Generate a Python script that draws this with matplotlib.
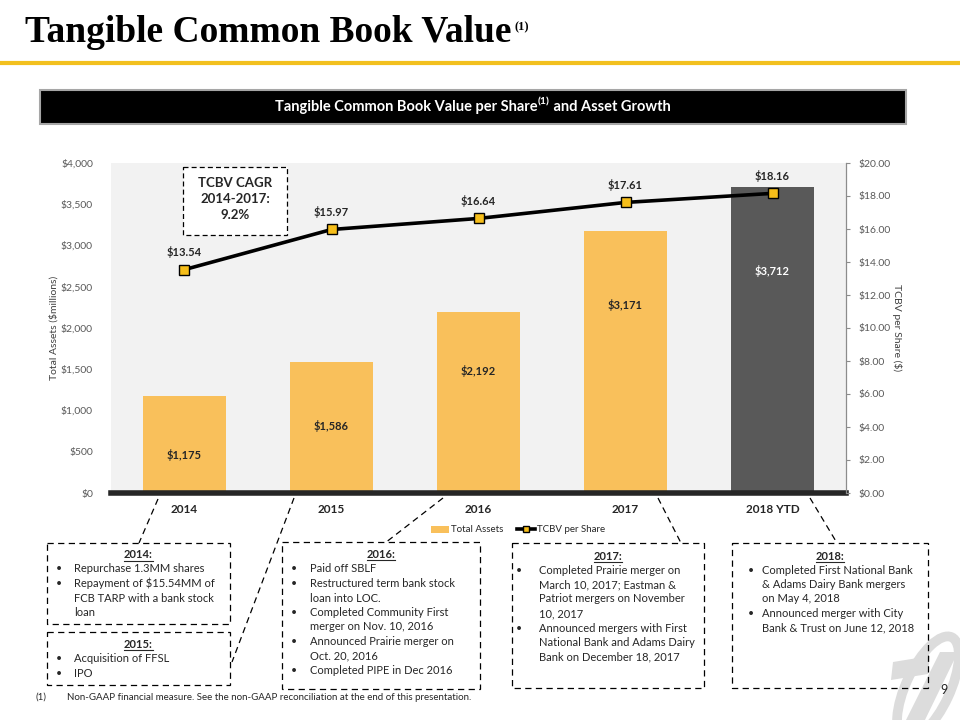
import matplotlib
matplotlib.use('Agg')
import matplotlib.pyplot as plt
from matplotlib.patches import Rectangle, Ellipse, Polygon
import numpy as np

# ---------------- data ----------------
years = ['2014', '2015', '2016', '2017', '2018 YTD']
total_assets = [1175, 1586, 2192, 3171, 3712]          # $ millions
tcbv_per_share = [13.54, 15.97, 16.64, 17.61, 18.16]   # $
asset_ticks = [0, 500, 1000, 1500, 2000, 2500, 3000, 3500, 4000]
asset_tick_labels = ['$0', '$500', '$1,000', '$1,500', '$2,000', '$2,500', '$3,000', '$3,500', '$4,000']
tcbv_ticks = [0, 2, 4, 6, 8, 10, 12, 14, 16, 18, 20]
tcbv_tick_labels = ['$0.00', '$2.00', '$4.00', '$6.00', '$8.00', '$10.00', '$12.00',
                    '$14.00', '$16.00', '$18.00', '$20.00']
cagr_lines = ['TCBV CAGR', '2014-2017:', '9.2%']

box_2014 = ['Repurchase 1.3MM shares',
            ['Repayment of $15.54MM of', 'FCB TARP with a bank stock', 'loan']]
box_2015 = ['Acquisition of FFSL', 'IPO']
box_2016 = ['Paid off SBLF',
            ['Restructured term bank stock', 'loan into LOC.'],
            ['Completed Community First', 'merger on Nov. 10, 2016'],
            ['Announced Prairie merger on', 'Oct. 20, 2016'],
            'Completed PIPE in Dec 2016']
box_2017 = [['Completed Prairie merger on', 'March 10, 2017; Eastman &',
             'Patriot mergers on November', '10, 2017'],
            ['Announced mergers with First', 'National Bank and Adams Dairy',
             'Bank on December 18, 2017']]
box_2018 = [['Completed First National Bank', '& Adams Dairy Bank mergers', 'on May 4, 2018'],
            ['Announced merger with City', 'Bank & Trust on June 12, 2018']]

# ---------------- style ----------------
plt.rcParams['font.family'] = ['Lato', 'DejaVu Sans']
W, H = 960, 720
ORANGE = '#F9C05B'
DARK = '#595959'
MARKER = '#F6BE1A'
TXT = '#262626'
LOGO = '#DCDCDC'

fig = plt.figure(figsize=(W / 100, H / 100), dpi=100)
fig.patch.set_facecolor('white')

# ---------------- chart ----------------
L, R, T, B = 111, 846, 163, 493
ax = fig.add_axes([L / W, 1 - B / H, (R - L) / W, (B - T) / H])
ax.set_facecolor('#F2F2F2')
x = np.arange(len(years))
bar_colors = [ORANGE] * (len(years) - 1) + [DARK]
bars = ax.bar(x, total_assets, width=0.57, color=bar_colors, zorder=2, label='Total Assets')
ax.set_xlim(-0.5, len(years) - 0.5)
ax.set_ylim(0, 4000)
ax.set_yticks(asset_ticks)
ax.set_yticklabels(asset_tick_labels)
ax.set_xticks(x)
ax.set_xticklabels(years, fontweight='bold')
ax.tick_params(axis='y', length=0, pad=13, labelsize=7.5, labelcolor='#595959')
ax.tick_params(axis='x', length=0, pad=8, labelsize=8.5, labelcolor=TXT)
for s in ['top', 'left', 'right']:
    ax.spines[s].set_visible(False)
ax.spines['bottom'].set_color('#262626')
ax.spines['bottom'].set_linewidth(4)
ax.spines['bottom'].set_zorder(5)
ax.set_ylabel('Total Assets ($millions)', fontsize=7.5, color='#404040')
ax.yaxis.set_label_coords((59 - L) / (R - L), 0.5)

drop_pts = [42.5, 46, 42.5, 53, 60.5]
label_colors = [TXT] * (len(years) - 1) + ['white']
for i, v in enumerate(total_assets):
    ax.annotate(f'${v:,}', xy=(i, v), xytext=(0, -drop_pts[i]), textcoords='offset points',
                ha='center', va='center', fontsize=8, fontweight='bold', color=label_colors[i])

ax2 = ax.twinx()
ax2.set_ylim(0, 20)
line, = ax2.plot(x, tcbv_per_share, color='black', lw=2.6, marker='s', ms=7,
                 mfc=MARKER, mec='black', mew=1.0, zorder=4, label='TCBV per Share')
ax2.set_yticks(tcbv_ticks)
ax2.set_yticklabels(tcbv_tick_labels)
ax2.tick_params(axis='y', length=3, width=0.8, color='#8C8C8C', pad=6,
                labelsize=7.5, labelcolor='#595959')
for s in ['top', 'left', 'bottom']:
    ax2.spines[s].set_visible(False)
ax2.spines['right'].set_color('#8C8C8C')
ax2.spines['right'].set_linewidth(0.9)
ax2.set_ylabel('TCBV per Share ($)', fontsize=7.5, color='#404040', rotation=-90, va='center')
ax2.yaxis.set_label_coords((897 - L) / (R - L), 0.5)
for i, v in enumerate(tcbv_per_share):
    ax2.annotate(f'${v:.2f}', xy=(i, v), xytext=(0, 12.5), textcoords='offset points',
                 ha='center', va='center', fontsize=8, fontweight='bold', color=TXT)

fig.legend(handles=[bars, line], labels=['Total Assets', 'TCBV per Share'],
           loc='center', bbox_to_anchor=(518 / W, 1 - 530 / H), ncol=2, frameon=False,
           fontsize=7, handlelength=1.9, handletextpad=0.2, columnspacing=1.4,
           labelcolor='#262626', markerscale=0.6)

# ---------------- overlay (slide decorations) ----------------
ov = fig.add_axes([0, 0, 1, 1], zorder=10)
ov.set_xlim(0, W)
ov.set_ylim(H, 0)
ov.axis('off')
ov.patch.set_alpha(0)

# Logo (light grey emblem), drawn first so boxes/text lie over it
ov.add_patch(Ellipse((928, 688), 112, 44, angle=115, fill=False, ec=LOGO, lw=7))
ov.add_patch(Polygon([(893, 662), (930, 656), (928, 674), (891, 680)], closed=True,
                     fc=LOGO, ec='none'))
ov.add_patch(Polygon([(905, 722), (924, 722), (958, 652), (940, 652)], closed=True,
                     fc=LOGO, ec='none'))

# Title
title = ov.text(25, 42, 'Tangible Common Book Value', family='Liberation Serif',
                weight='bold', size=27, va='baseline', color='black')
ov.plot([0, W], [63, 63], color='#F2C01E', lw=3, solid_capstyle='butt')

# Header bar
ov.add_patch(Rectangle((40, 90), 866, 34, fc='black', ec='#A6A6A6', lw=1.5))

# CAGR box
ov.add_patch(Rectangle((183, 167), 104, 68, fc='white', ec='black', lw=0.9, ls=(0, (4, 2.5))))
for k, s in enumerate(cagr_lines):
    ov.text(235.5, 183 + 16 * k, s, ha='center', va='center', fontsize=9.5,
            fontweight='bold', color=TXT)

# Connector lines
connectors = [((158, 499), (139, 543)), ((294, 498), (232, 662)), ((443, 498), (385, 543)),
              ((658, 498), (681, 543)), ((810, 498), (837, 543))]
for (x0, y0), (x1, y1) in connectors:
    ov.plot([x0, x1], [y0, y1], color='black', lw=0.9, ls=(0, (5, 3.5)))

# Annotation boxes
headings = []
def note_box(rect, title_txt, title_y, bullet_x, text_x, start_y, items, step=14.5):
    x0, y0, x1, y1 = rect
    ov.add_patch(Rectangle((x0, y0), x1 - x0, y1 - y0, fc='none', ec='black', lw=0.9,
                           ls=(0, (5, 3.5))))
    t = ov.text((x0 + x1) / 2, title_y, title_txt, ha='center', va='center', fontsize=8,
                fontweight='bold', color=TXT)
    headings.append(t)
    y = start_y
    for it in items:
        lines = [it] if isinstance(it, str) else it
        ov.text(bullet_x, y, '•', ha='center', va='center', fontsize=7.5, color=TXT)
        for ln in lines:
            ov.text(text_x, y, ln, ha='left', va='center', fontsize=8, color=TXT)
            y += step

note_box((47, 543, 230, 624), '2014:', 555, 59, 74, 569, box_2014)
note_box((47, 632, 230, 685), '2015:', 644, 59, 74, 659, box_2015)
note_box((282, 542, 480, 689), '2016:', 554, 294, 310, 569, box_2016)
note_box((512, 543, 704, 688), '2017:', 556, 519, 539, 570, box_2017)
note_box((732, 543, 928, 688), '2018:', 556, 751, 762, 570, box_2018)

# Footnote and page number
ov.text(36, 697, '(1)', fontsize=7, va='center', color=TXT)
ov.text(67, 697, 'Non-GAAP financial measure. See the non-GAAP reconciliation at the end of this presentation.',
        fontsize=7, va='center', color=TXT)
ov.text(940, 690, '9', fontsize=9, va='center', color=TXT)

# ---------- text-measured placements ----------
fig.canvas.draw()
rend = fig.canvas.get_renderer()
inv = ov.transData.inverted()

# Title superscript
bb = title.get_window_extent(rend)
(tx1, _), = inv.transform([(bb.x1, bb.y1)])
ov.text(tx1 + 3, 30, '(1)', family='Liberation Serif', weight='bold', size=9,
        va='baseline', color='black')

# Header text with superscript
parts = ['Tangible Common Book Value per Share', '(1)', ' and Asset Growth']
sizes = [10.5, 7.5, 10.5]
tmp = [ov.text(0, 0, p, fontsize=s, fontweight='bold') for p, s in zip(parts, sizes)]
widths = []
for t in tmp:
    b = t.get_window_extent(rend)
    widths.append(b.width)
    t.remove()
total = sum(widths)
xd = ov.transData.transform([(473, 107)])[0][0] - total / 2
for p, s, w in zip(parts, sizes, widths):
    xx = inv.transform([(xd, 0)])[0][0]
    yy = 107 if s == sizes[0] else 102
    ov.text(xx, yy, p, fontsize=s, fontweight='bold', color='white', va='center', ha='left')
    xd += w

# Underline headings
for t in headings:
    b = t.get_window_extent(rend)
    (ux0, uy), (ux1, _) = inv.transform([(b.x0, b.y0), (b.x1, b.y0)])
    ov.plot([ux0, ux1], [uy + 0.5, uy + 0.5], color=TXT, lw=0.8)

fig.savefig('out.png', dpi=100, facecolor='white')
